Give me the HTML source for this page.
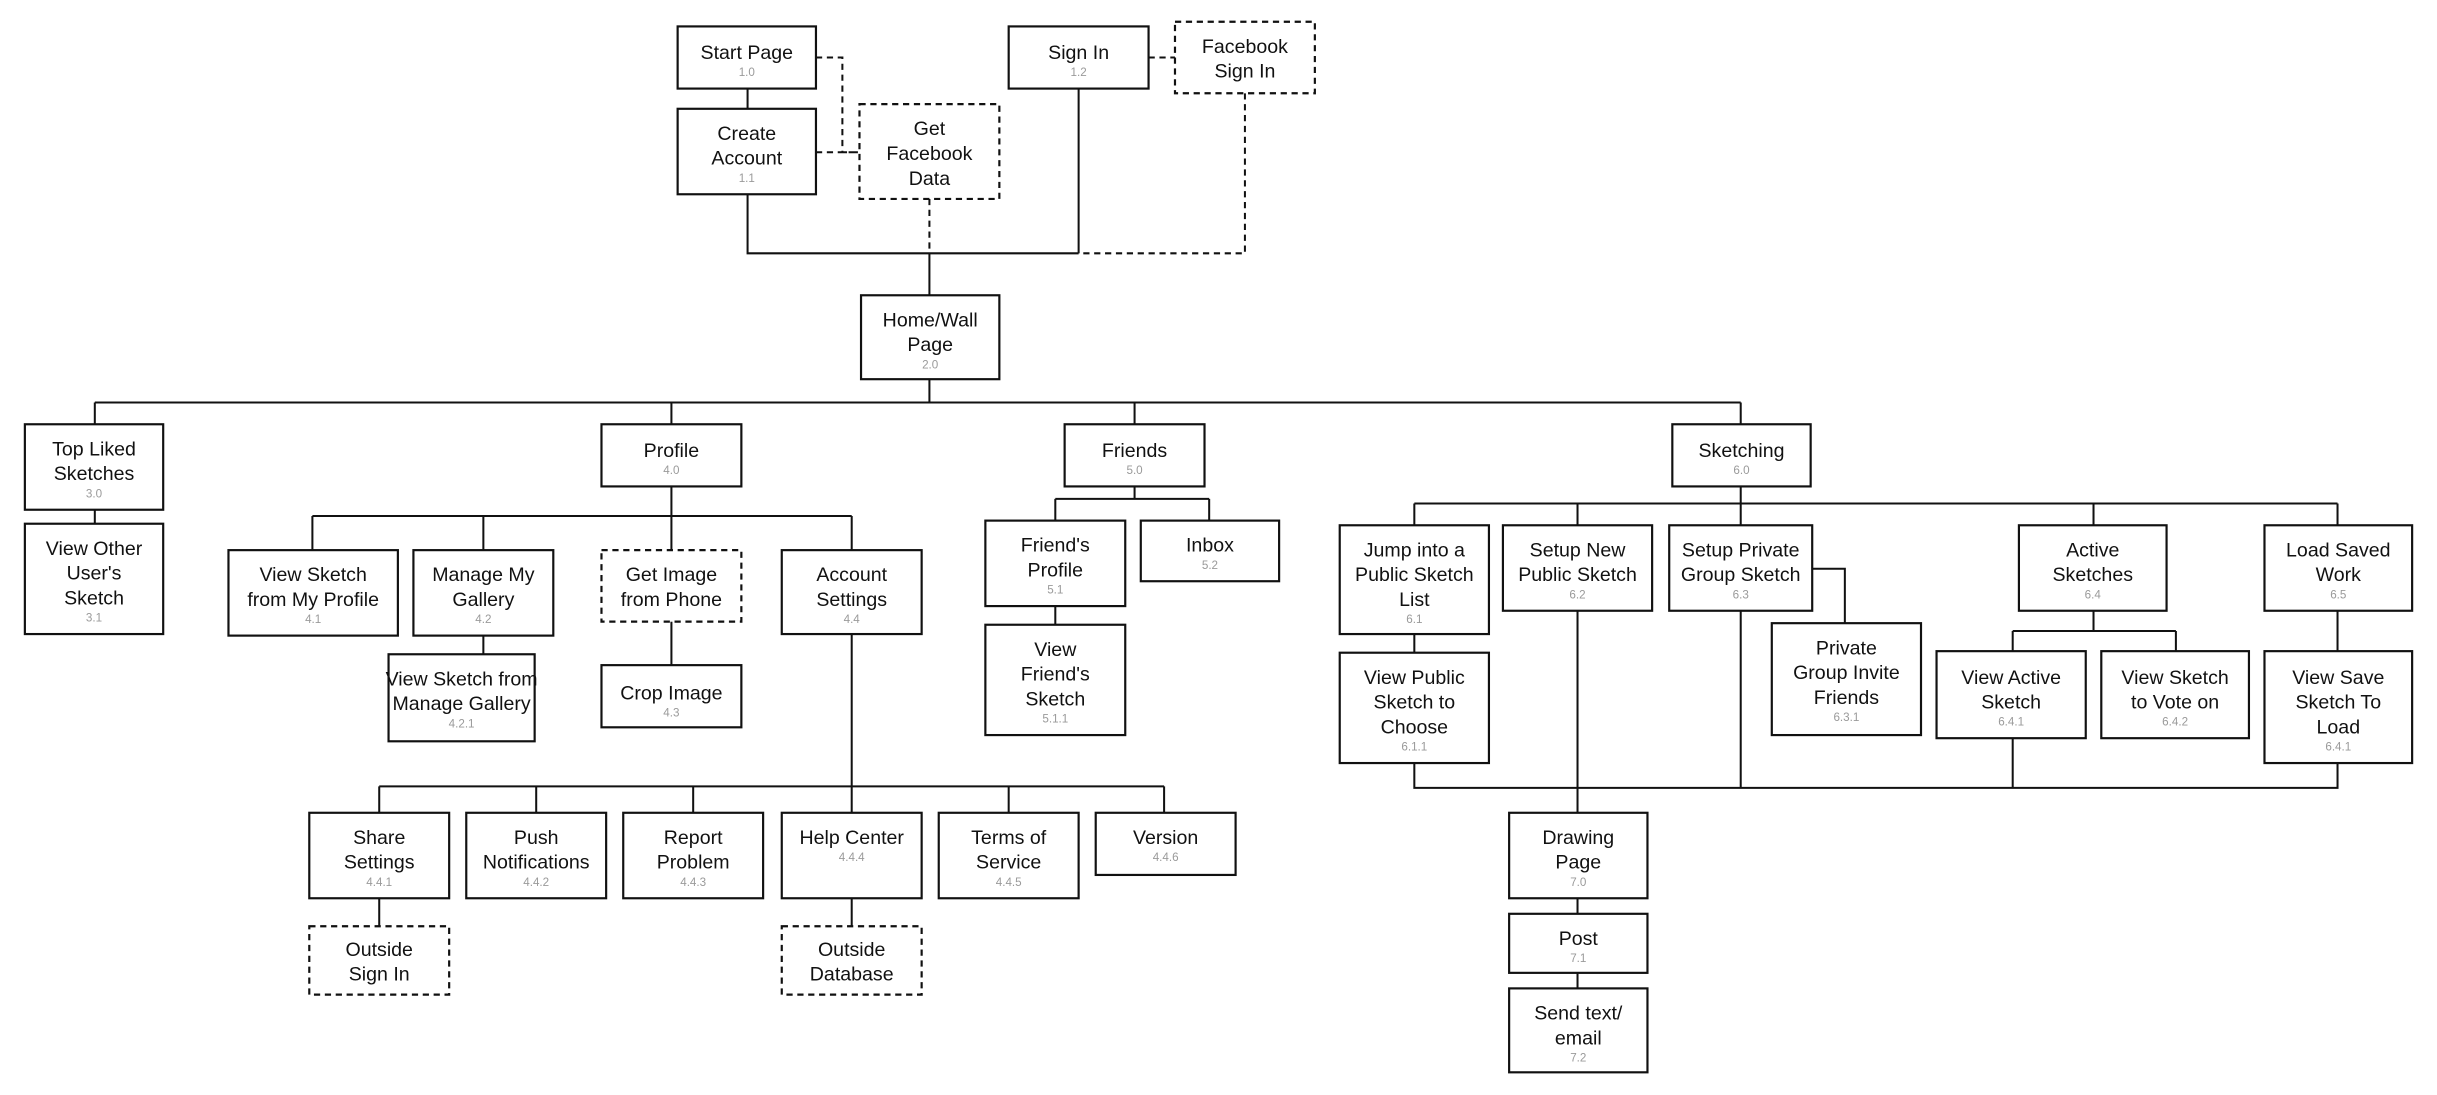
<!DOCTYPE html>
<html><head><meta charset="utf-8"><style>
html,body{margin:0;padding:0;background:#fff;}
svg{display:block;}
text{font-family:"Liberation Sans",Arial,sans-serif;text-anchor:middle;}
.m{font-size:12.6px;fill:#111;}
.s{font-size:7.5px;fill:#9a9a9a;}
rect{fill:#fff;stroke:#111;stroke-width:1.4;}
rect.d{stroke-dasharray:4,3;}
.l{fill:none;stroke:#111;stroke-width:1.3;}
.ld{fill:none;stroke:#111;stroke-width:1.3;stroke-dasharray:4,3;}
</style></head><body>
<svg width="2437" height="1095" viewBox="0 0 1568 704.6" preserveAspectRatio="none" xmlns="http://www.w3.org/2000/svg">
<path class="ld" d="M525 37H542V98H553M525 98H553M739 37H756M801 60V163H694M598 128V163"/>
<path class="l" d="M481 57V70M694 57V163M481 125V163H694M598 163V190M598 244V259M61 259H1120M61 259V273M432 259V273M730 259V273M1120 259V273M61 328V337"/>
<path class="l" d="M432 313V354M201 332H548M201 332V354M311 332V354M548 332V354M311 409V421M432 400V428M548 408V523M244 506H749M244 506V523M345 506V523M446 506V523M649 506V523M749 506V523M244 578V596M548 578V596"/>
<path class="l" d="M730 313V321M679 321H778M679 321V335M778 321V335M679 390V402"/>
<path class="l" d="M1120 313V338M910 324H1504M910 324V338M1015 324V338M1347 324V338M1504 324V338M910 408V420M1166 366H1187V401M1347 393V406M1295 406H1400M1295 406V419M1400 406V419M1504 393V419"/>
<path class="l" d="M910 491V507H1504V491M1015 393V523M1120 393V507M1295 475V507M1015 578V588M1015 626V636"/>
<rect x="436" y="17" width="89" height="40"/><text class="m" x="480.5" y="38">Start Page</text><text class="s" x="480.5" y="49">1.0</text>
<rect x="436" y="70" width="89" height="55"/><text class="m" x="480.5" y="90">Create</text><text class="m" x="480.5" y="106">Account</text><text class="s" x="480.5" y="117">1.1</text>
<rect class="d" x="553" y="67" width="90" height="61"/><text class="m" x="598" y="87">Get</text><text class="m" x="598" y="103">Facebook</text><text class="m" x="598" y="119">Data</text>
<rect x="649" y="17" width="90" height="40"/><text class="m" x="694" y="38">Sign In</text><text class="s" x="694" y="49">1.2</text>
<rect class="d" x="756" y="14" width="90" height="46"/><text class="m" x="801" y="34">Facebook</text><text class="m" x="801" y="50">Sign In</text>
<rect x="554" y="190" width="89" height="54"/><text class="m" x="598.5" y="210">Home/Wall</text><text class="m" x="598.5" y="226">Page</text><text class="s" x="598.5" y="237">2.0</text>

<rect x="16" y="273" width="89" height="55"/><text class="m" x="60.5" y="293">Top Liked</text><text class="m" x="60.5" y="309">Sketches</text><text class="s" x="60.5" y="320">3.0</text>
<rect x="16" y="337" width="89" height="71"/><text class="m" x="60.5" y="357">View Other</text><text class="m" x="60.5" y="373">User's</text><text class="m" x="60.5" y="389">Sketch</text><text class="s" x="60.5" y="400">3.1</text>

<rect x="387" y="273" width="90" height="40"/><text class="m" x="432" y="294">Profile</text><text class="s" x="432" y="305">4.0</text>
<rect x="147" y="354" width="109" height="55"/><text class="m" x="201.5" y="374">View Sketch</text><text class="m" x="201.5" y="390">from My Profile</text><text class="s" x="201.5" y="401">4.1</text>
<rect x="266" y="354" width="90" height="55"/><text class="m" x="311" y="374">Manage My</text><text class="m" x="311" y="390">Gallery</text><text class="s" x="311" y="401">4.2</text>
<rect class="d" x="387" y="354" width="90" height="46"/><text class="m" x="432" y="374">Get Image</text><text class="m" x="432" y="390">from Phone</text>
<rect x="503" y="354" width="90" height="54"/><text class="m" x="548" y="374">Account</text><text class="m" x="548" y="390">Settings</text><text class="s" x="548" y="401">4.4</text>
<rect x="250" y="421" width="94" height="56"/><text class="m" x="297" y="441">View Sketch from</text><text class="m" x="297" y="457">Manage Gallery</text><text class="s" x="297" y="468">4.2.1</text>
<rect x="387" y="428" width="90" height="40"/><text class="m" x="432" y="450">Crop Image</text><text class="s" x="432" y="461">4.3</text>

<rect x="199" y="523" width="90" height="55"/><text class="m" x="244" y="543">Share</text><text class="m" x="244" y="559">Settings</text><text class="s" x="244" y="570">4.4.1</text>
<rect x="300" y="523" width="90" height="55"/><text class="m" x="345" y="543">Push</text><text class="m" x="345" y="559">Notifications</text><text class="s" x="345" y="570">4.4.2</text>
<rect x="401" y="523" width="90" height="55"/><text class="m" x="446" y="543">Report</text><text class="m" x="446" y="559">Problem</text><text class="s" x="446" y="570">4.4.3</text>
<rect x="503" y="523" width="90" height="55"/><text class="m" x="548" y="543">Help Center</text><text class="s" x="548" y="554">4.4.4</text>
<rect x="604" y="523" width="90" height="55"/><text class="m" x="649" y="543">Terms of</text><text class="m" x="649" y="559">Service</text><text class="s" x="649" y="570">4.4.5</text>
<rect x="705" y="523" width="90" height="40"/><text class="m" x="750" y="543">Version</text><text class="s" x="750" y="554">4.4.6</text>
<rect class="d" x="199" y="596" width="90" height="44"/><text class="m" x="244" y="615">Outside</text><text class="m" x="244" y="631">Sign In</text>
<rect class="d" x="503" y="596" width="90" height="44"/><text class="m" x="548" y="615">Outside</text><text class="m" x="548" y="631">Database</text>

<rect x="685" y="273" width="90" height="40"/><text class="m" x="730" y="294">Friends</text><text class="s" x="730" y="305">5.0</text>
<rect x="634" y="335" width="90" height="55"/><text class="m" x="679" y="355">Friend's</text><text class="m" x="679" y="371">Profile</text><text class="s" x="679" y="382">5.1</text>
<rect x="734" y="335" width="89" height="39"/><text class="m" x="778.5" y="355">Inbox</text><text class="s" x="778.5" y="366">5.2</text>
<rect x="634" y="402" width="90" height="71"/><text class="m" x="679" y="422">View</text><text class="m" x="679" y="438">Friend's</text><text class="m" x="679" y="454">Sketch</text><text class="s" x="679" y="465">5.1.1</text>

<rect x="1076" y="273" width="89" height="40"/><text class="m" x="1120.5" y="294">Sketching</text><text class="s" x="1120.5" y="305">6.0</text>
<rect x="862" y="338" width="96" height="70"/><text class="m" x="910" y="358">Jump into a</text><text class="m" x="910" y="374">Public Sketch</text><text class="m" x="910" y="390">List</text><text class="s" x="910" y="401">6.1</text>
<rect x="862" y="420" width="96" height="71"/><text class="m" x="910" y="440">View Public</text><text class="m" x="910" y="456">Sketch to</text><text class="m" x="910" y="472">Choose</text><text class="s" x="910" y="483">6.1.1</text>
<rect x="967" y="338" width="96" height="55"/><text class="m" x="1015" y="358">Setup New</text><text class="m" x="1015" y="374">Public Sketch</text><text class="s" x="1015" y="385">6.2</text>
<rect x="1074" y="338" width="92" height="55"/><text class="m" x="1120" y="358">Setup Private</text><text class="m" x="1120" y="374">Group Sketch</text><text class="s" x="1120" y="385">6.3</text>
<rect x="1140" y="401" width="96" height="72"/><text class="m" x="1188" y="421">Private</text><text class="m" x="1188" y="437">Group Invite</text><text class="m" x="1188" y="453">Friends</text><text class="s" x="1188" y="464">6.3.1</text>
<rect x="1299" y="338" width="95" height="55"/><text class="m" x="1346.5" y="358">Active</text><text class="m" x="1346.5" y="374">Sketches</text><text class="s" x="1346.5" y="385">6.4</text>
<rect x="1246" y="419" width="96" height="56"/><text class="m" x="1294" y="440">View Active</text><text class="m" x="1294" y="456">Sketch</text><text class="s" x="1294" y="467">6.4.1</text>
<rect x="1352" y="419" width="95" height="56"/><text class="m" x="1399.5" y="440">View Sketch</text><text class="m" x="1399.5" y="456">to Vote on</text><text class="s" x="1399.5" y="467">6.4.2</text>
<rect x="1457" y="338" width="95" height="55"/><text class="m" x="1504.5" y="358">Load Saved</text><text class="m" x="1504.5" y="374">Work</text><text class="s" x="1504.5" y="385">6.5</text>
<rect x="1457" y="419" width="95" height="72"/><text class="m" x="1504.5" y="440">View Save</text><text class="m" x="1504.5" y="456">Sketch To</text><text class="m" x="1504.5" y="472">Load</text><text class="s" x="1504.5" y="483">6.4.1</text>

<rect x="971" y="523" width="89" height="55"/><text class="m" x="1015.5" y="543">Drawing</text><text class="m" x="1015.5" y="559">Page</text><text class="s" x="1015.5" y="570">7.0</text>
<rect x="971" y="588" width="89" height="38"/><text class="m" x="1015.5" y="608">Post</text><text class="s" x="1015.5" y="619">7.1</text>
<rect x="971" y="636" width="89" height="54"/><text class="m" x="1015.5" y="656">Send text/</text><text class="m" x="1015.5" y="672">email</text><text class="s" x="1015.5" y="683">7.2</text>
</svg>
</body></html>
